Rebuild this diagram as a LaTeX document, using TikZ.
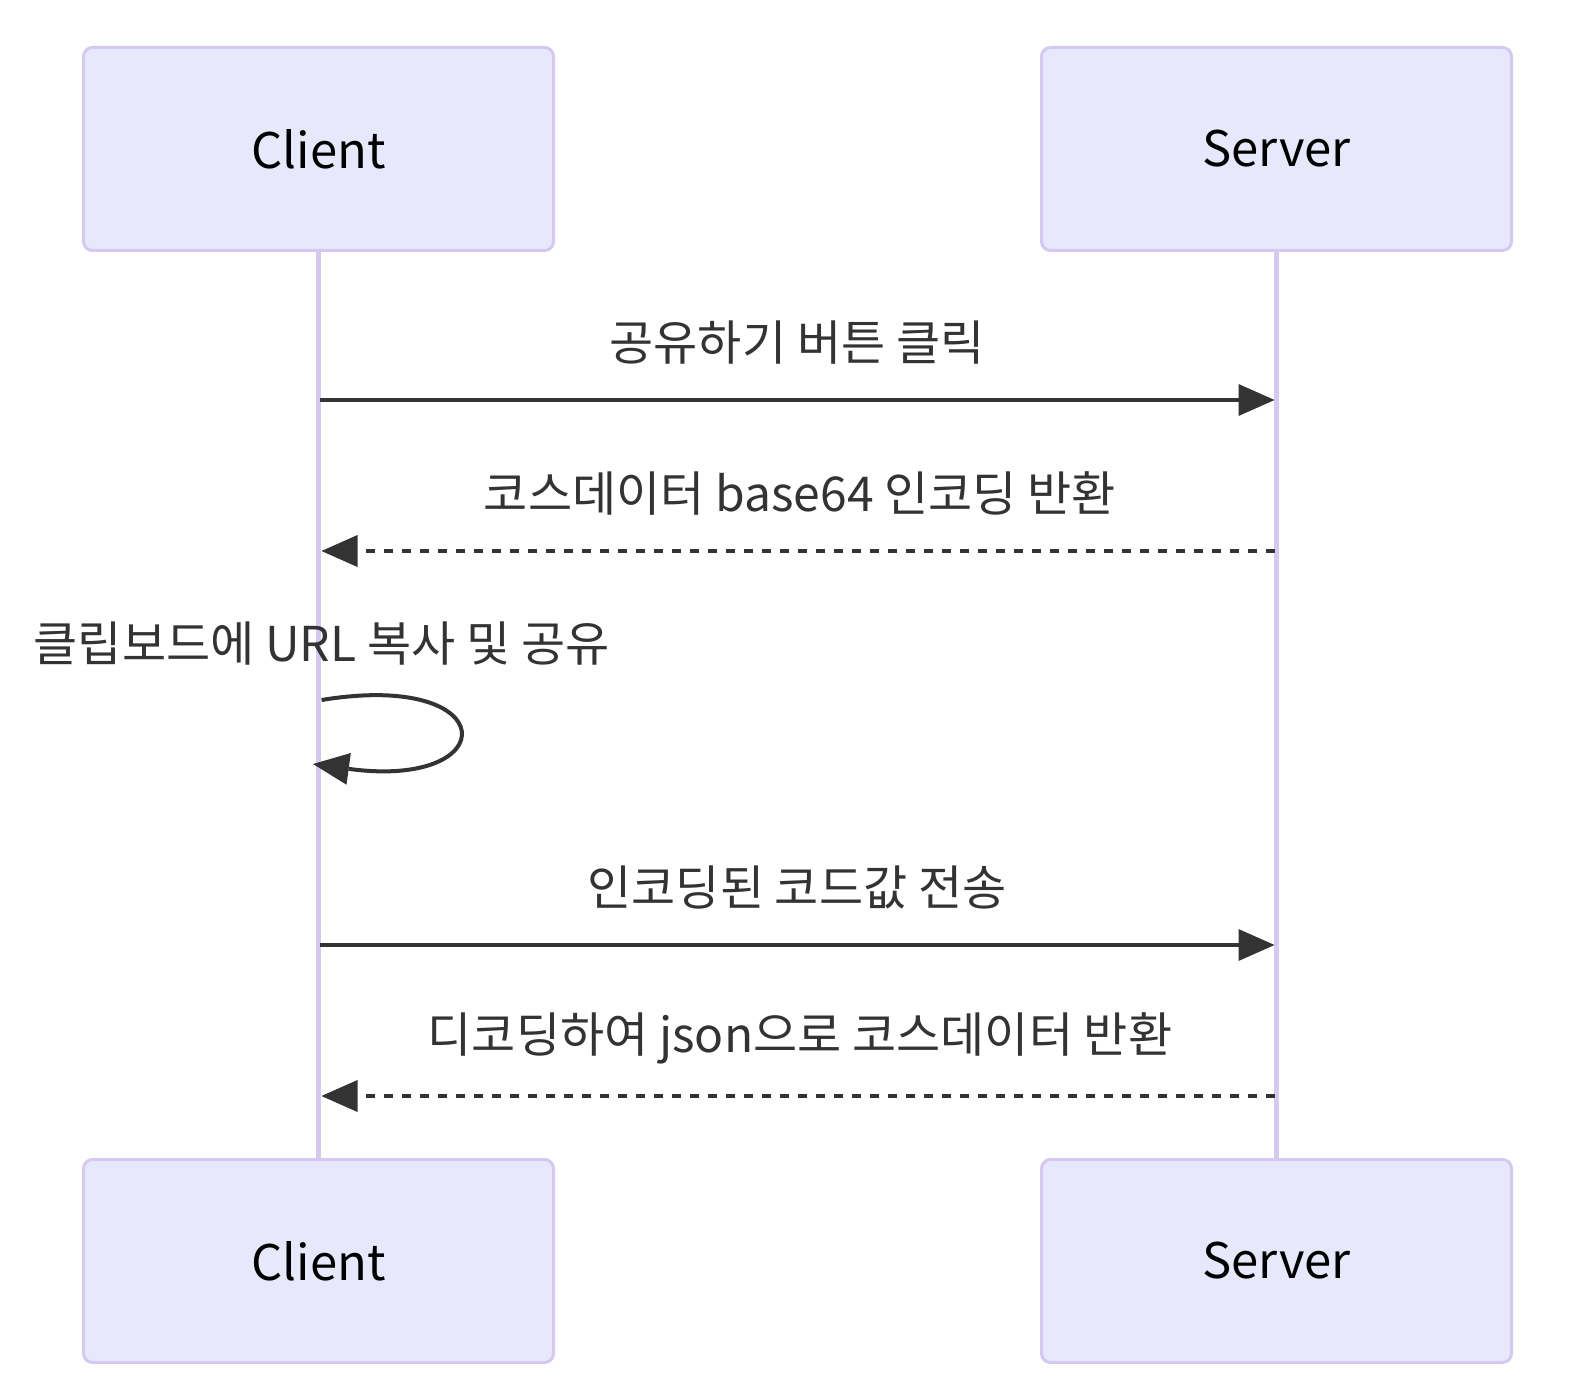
\documentclass[tikz,border=0pt]{standalone}
\usepackage{fontspec}
\setmainfont{Noto Sans CJK KR}
\usetikzlibrary{arrows.meta}
\definecolor{actfill}{HTML}{E8E8FC}
\definecolor{actline}{HTML}{D5C9F0}
\definecolor{msgc}{HTML}{333333}
\begin{document}
\begin{tikzpicture}[x=1pt,y=-1pt,
  actor/.style={draw=actline,fill=actfill,line width=3pt,rounded corners=9pt,
    minimum width=470pt,minimum height=203pt,inner sep=0pt,
    font=\fontsize{49}{59}\selectfont,text=black},
  life/.style={draw=actline,line width=5pt},
  msgline/.style={draw=msgc,line width=4pt,
    -{Triangle[length=36pt,width=32pt,line width=0pt]}},
  reply/.style={msgline,dash pattern=on 9pt off 9pt},
  lbl/.style={font=\fontsize{48}{58}\selectfont,text=msgc,inner sep=0pt}]
\useasboundingbox (0,0) rectangle (1576,1396);
\fill[white] (0,0) rectangle (1576,1396);
% lifelines
\coordinate (ctl) at (318,250);
\coordinate (cbl) at (318,1158);
\coordinate (stl) at (1276.5,250);
\coordinate (sbl) at (1276.5,1158);
\draw[life] (ctl) -- (cbl);
\draw[life] (stl) -- (sbl);
% actors
\node[actor] (ct) at (318.5,149) {Client};
\node[actor] (st) at (1276.5,149) {Server};
\node[actor] (cb) at (318.5,1261) {Client};
\node[actor] (sb) at (1276.5,1261) {Server};
% message anchors
\coordinate (c1) at (320,400);   \coordinate (s1) at (1274.5,400);
\coordinate (c2) at (321.5,551); \coordinate (s2) at (1275,551);
\coordinate (c3a) at (321.6,700); \coordinate (c3b) at (313,764);
\coordinate (c4) at (320,945);   \coordinate (s4) at (1274.5,945);
\coordinate (c5) at (321.5,1096); \coordinate (s5) at (1275,1096);
% messages
\draw[msgline] (c1) -- (s1);
\node[lbl] (l1) at (797,343) {공유하기 버튼 클릭};
\draw[reply] (s2) -- (c2);
\node[lbl] (l2) at (800,493.5) {코스데이터 base64 인코딩 반환};
\node[lbl] (l3) at (321.6,644) {클립보드에 URL 복사 및 공유};
\draw[msgline] (c3a) .. controls (504,670) and (504,790) .. (c3b);
\draw[msgline] (c4) -- (s4);
\node[lbl] (l4) at (797,887.5) {인코딩된 코드값 전송};
\draw[reply] (s5) -- (c5);
\node[lbl] (l5) at (800,1038) {디코딩하여 json으로 코스데이터 반환};
\end{tikzpicture}
\end{document}
